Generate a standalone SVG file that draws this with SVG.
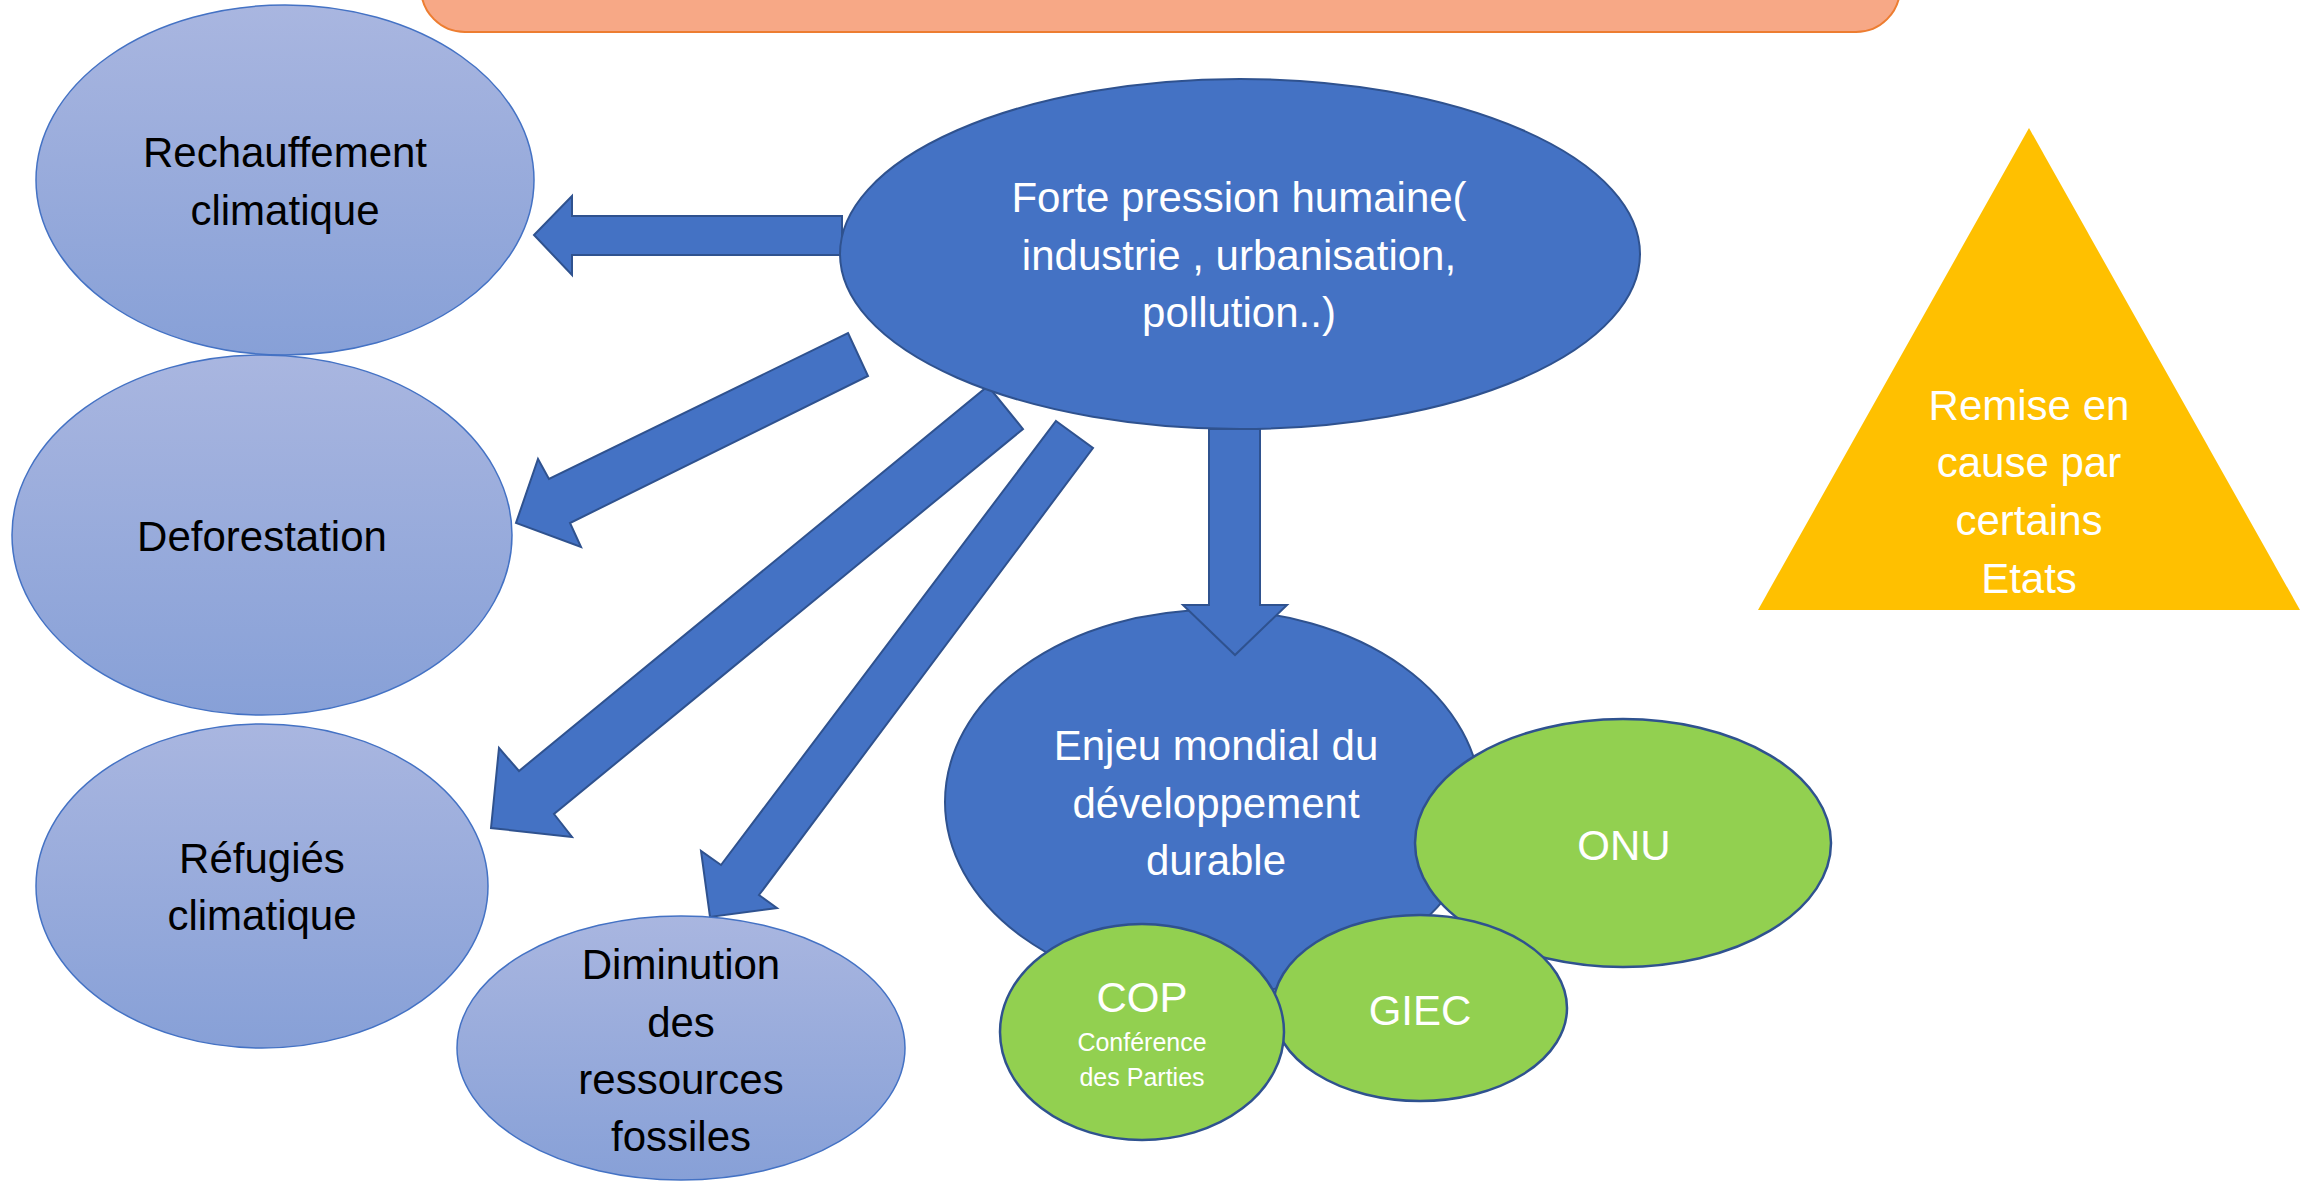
<svg xmlns="http://www.w3.org/2000/svg" width="2311" height="1181" viewBox="0 0 2311 1181">
<defs>
<linearGradient id="lb" x1="0" y1="0" x2="0" y2="1">
<stop offset="0" stop-color="#A9B6E0"/>
<stop offset="1" stop-color="#87A0D7"/>
</linearGradient>
<style>
.lt{fill:url(#lb);stroke:#4472C4;stroke-width:1.5}
.bl{fill:#4472C4;stroke:#2F528F;stroke-width:2}
.gr{fill:#92D050;stroke:#2F528F;stroke-width:2.5}
.ar{fill:#4472C4;stroke:#2F528F;stroke-width:2;stroke-linejoin:miter}
text{font-family:"Liberation Sans",Arial,sans-serif;font-size:42px;text-anchor:middle}
.k{fill:#000}
.w{fill:#fff}
.s{font-size:25px}
</style>
</defs>
<rect width="2311" height="1181" fill="#fff"/>
<g id="banner">
<rect x="421" y="-80" width="1479" height="112" rx="44" ry="44" fill="#F7A886" stroke="#ED7D31" stroke-width="2"/>
</g>
<g id="connectors">
<polygon class="ar" points="842,216 572,216 572,196 534,235 572,275 572,255 842,255"/>
<polygon class="ar" points="848,333 868,376 570,523 581,547 516,523 538,459 549,479"/>
<polygon class="ar" points="988,386 1023,429 554,814 572,837 491,828 499,748 519,771"/>
<polygon class="ar" points="1056,421 1093,448 759,895 777,908 710,917 701,851 721,865"/>
</g>
<g id="rechauffement">
<ellipse class="lt" cx="285" cy="180" rx="249" ry="175"/>
<text class="k" x="285" y="167">Rechauffement</text>
<text class="k" x="285" y="225">climatique</text>
</g>
<g id="deforestation">
<ellipse class="lt" cx="262" cy="535" rx="250" ry="180"/>
<text class="k" x="262" y="551">Deforestation</text>
</g>
<g id="refugies">
<ellipse class="lt" cx="262" cy="886" rx="226" ry="162"/>
<text class="k" x="262" y="873">Réfugiés</text>
<text class="k" x="262" y="930">climatique</text>
</g>
<g id="diminution">
<ellipse class="lt" cx="681" cy="1048" rx="224" ry="132"/>
<text class="k" x="681" y="979">Diminution</text>
<text class="k" x="681" y="1037">des</text>
<text class="k" x="681" y="1094">ressources</text>
<text class="k" x="681" y="1151">fossiles</text>
</g>
<g id="pression">
<ellipse class="bl" cx="1240" cy="254" rx="400" ry="175"/>
<text class="w" x="1239" y="212">Forte pression humaine(</text>
<text class="w" x="1239" y="270">industrie , urbanisation,</text>
<text class="w" x="1239" y="327">pollution..)</text>
</g>
<g id="enjeu">
<ellipse class="bl" cx="1213" cy="802" rx="268" ry="192"/>
<text class="w" x="1216" y="760">Enjeu mondial du</text>
<text class="w" x="1216" y="818">développement</text>
<text class="w" x="1216" y="875">durable</text>
</g>
<g id="connector-down">
<polygon class="ar" points="1209,429 1260,429 1260,605 1287,605 1235,655 1183,605 1209,605"/>
</g>
<g id="onu">
<ellipse class="gr" cx="1623" cy="843" rx="208" ry="124"/>
<text class="w" x="1624" y="860">ONU</text>
</g>
<g id="giec">
<ellipse class="gr" cx="1420" cy="1008" rx="147" ry="93"/>
<text class="w" x="1420" y="1025">GIEC</text>
</g>
<g id="cop">
<ellipse class="gr" cx="1142" cy="1032" rx="142" ry="108"/>
<text class="w" x="1142" y="1012">COP</text>
<text class="w s" x="1142" y="1051">Conférence</text>
<text class="w s" x="1142" y="1086">des Parties</text>
</g>
<g id="remise">
<polygon points="2029,128 2300,610 1758,610" fill="#FFC000"/>
<text class="w" x="2029" y="420">Remise en</text>
<text class="w" x="2029" y="477">cause par</text>
<text class="w" x="2029" y="535">certains</text>
<text class="w" x="2029" y="593">Etats</text>
</g>
</svg>
